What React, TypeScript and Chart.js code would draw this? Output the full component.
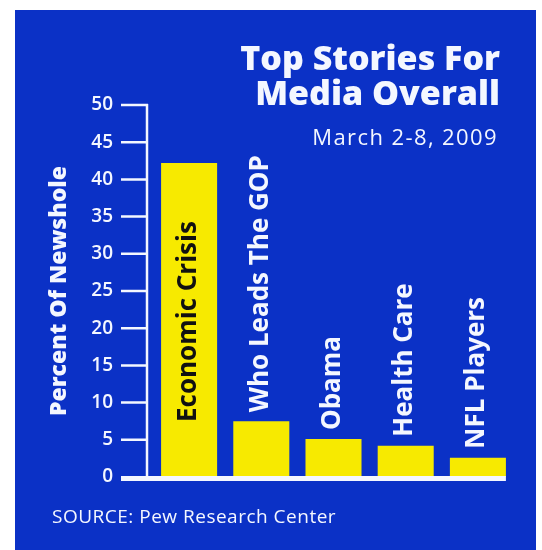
import React, { useEffect, useRef } from "react";
import { Chart, registerables } from "chart.js";

Chart.register(...registerables);

const categories = ["Economic Crisis", "Who Leads The GOP", "Obama", "Health Care", "NFL Players"];
const percentValues = [42.2, 7.5, 5.1, 4.2, 2.6];
const yMin = 0;
const yMax = 50;
const yStep = 5;
const titleLines = ["Top Stories For", "Media Overall"];
const subtitleText = "March 2-8, 2009";
const sourceText = "SOURCE: Pew Research Center";
const yAxisTitle = "Percent Of Newshole";

const BLUE = "#0b31c6";
const YELLOW = "#f7ea00";
const WHITE = "#f4f7ff";
const FONT = "'Open Sans', sans-serif";

const decorPlugin = {
  id: "decor",
  beforeDraw(chart: any) {
    const { ctx, width, height } = chart;
    ctx.save();
    ctx.fillStyle = "#ffffff";
    ctx.fillRect(0, 0, width, height);
    ctx.fillStyle = BLUE;
    ctx.fillRect(15, 10, 521, height - 10);
    ctx.restore();
  },
  afterDatasetsDraw(chart: any) {
    const { ctx, chartArea } = chart;
    const yScale = chart.scales.y;
    const meta = chart.getDatasetMeta(0);
    const axisX = chartArea.left - 6;
    const tickStart = chartArea.left - 32;
    ctx.save();
    ctx.strokeStyle = WHITE;
    ctx.lineWidth = 2.5;
    ctx.beginPath();
    ctx.moveTo(axisX, yScale.getPixelForValue(yMax) - 1);
    ctx.lineTo(axisX, yScale.getPixelForValue(yMin));
    for (let v = yMin + yStep; v <= yMax; v += yStep) {
      const py = yScale.getPixelForValue(v);
      ctx.moveTo(tickStart, py);
      ctx.lineTo(axisX + 1, py);
    }
    ctx.stroke();
    // baseline
    const last = meta.data[meta.data.length - 1];
    const lastProps = last.getProps(["x", "width"], true);
    const y0 = yScale.getPixelForValue(0);
    ctx.fillStyle = WHITE;
    ctx.fillRect(tickStart, y0 - 1, lastProps.x + lastProps.width / 2 - tickStart, 5);

    // category labels
    ctx.font = `bold 26px ${FONT}`;
    ctx.textAlign = "left";
    ctx.textBaseline = "middle";
    meta.data.forEach((bar: any, i: number) => {
      const p = bar.getProps(["x", "y", "base"], true);
      const inside = percentValues[i] > 20;
      const startY = inside ? p.base - 55 : p.y - 9;
      ctx.save();
      ctx.translate(p.x - 1, startY);
      ctx.rotate(-Math.PI / 2);
      ctx.fillStyle = inside ? "#111111" : WHITE;
      ctx.fillText(categories[i], 0, 0);
      ctx.restore();
    });

    // titles
    ctx.fillStyle = WHITE;
    ctx.textAlign = "right";
    ctx.textBaseline = "alphabetic";
    ctx.font = `800 34px ${FONT}`;
    ctx.fillText(titleLines[0], 500, 70);
    ctx.fillText(titleLines[1], 500, 105);
    ctx.font = `400 22px ${FONT}`;
    (ctx as any).letterSpacing = "1.4px";
    ctx.fillText(subtitleText, 498, 145);
    ctx.textAlign = "left";
    ctx.font = `400 19px ${FONT}`;
    (ctx as any).letterSpacing = "0.5px";
    ctx.fillText(sourceText, 52, 523);
    (ctx as any).letterSpacing = "0px";
    ctx.restore();
  },
};

export default function App() {
  const canvasRef = useRef<HTMLCanvasElement | null>(null);

  useEffect(() => {
    document.body.style.margin = "0";
    const canvas = canvasRef.current;
    if (!canvas) return;
    const chart = new Chart(canvas, {
      type: "bar",
      data: {
        labels: categories,
        datasets: [
          {
            data: percentValues,
            backgroundColor: YELLOW,
            borderWidth: 0,
            barPercentage: 0.776,
            categoryPercentage: 1,
          },
        ],
      },
      options: {
        responsive: false,
        animation: false,
        devicePixelRatio: 1,
        layout: { padding: { top: 105, bottom: 73, left: 0, right: 28 } },
        plugins: {
          legend: { display: false },
          tooltip: { enabled: false },
          title: { display: false },
        },
        scales: {
          x: { display: false },
          y: {
            min: yMin,
            max: yMax,
            afterFit: (s: any) => {
              s.width = 153;
            },
            grid: { display: false, drawTicks: false },
            border: { display: false },
            ticks: {
              stepSize: yStep,
              color: WHITE,
              padding: 40,
              font: { family: FONT, size: 19, weight: "600" },
            },
            title: {
              display: true,
              text: yAxisTitle,
              color: WHITE,
              font: { family: FONT, size: 23, weight: "800" },
              padding: { top: 46, bottom: 0 },
            },
          },
        },
      },
      plugins: [decorPlugin],
    });
    return () => chart.destroy();
  }, []);

  return (
    <div style={{ width: 542, height: 550 }}>
      <canvas ref={canvasRef} width={542} height={550} style={{ display: "block", width: 542, height: 550 }} />
    </div>
  );
}
